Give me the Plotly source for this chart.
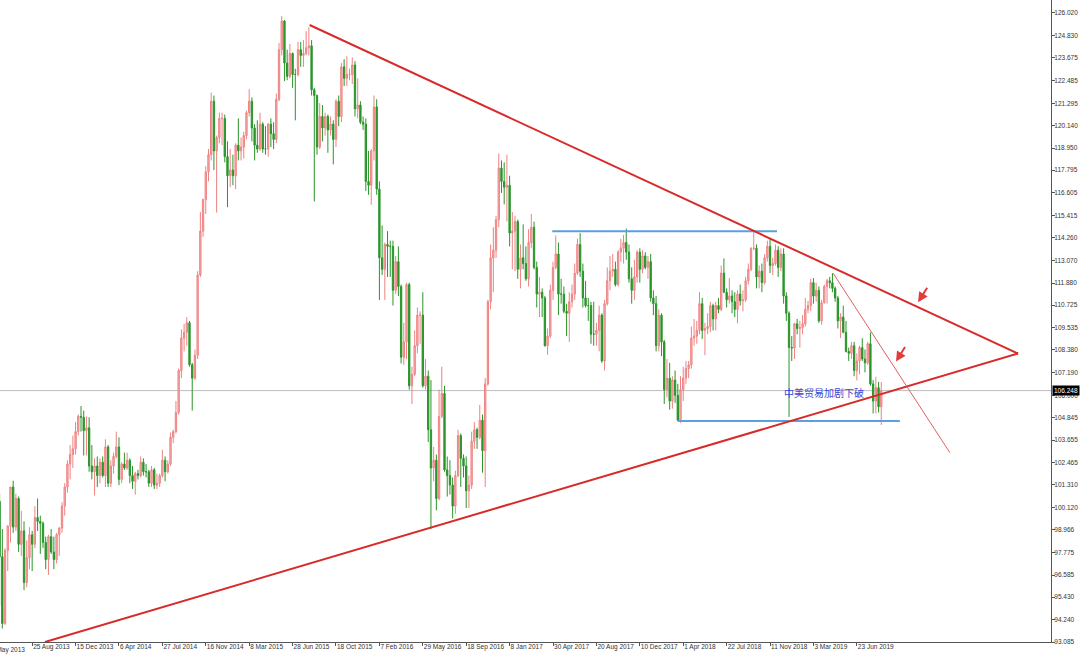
import pandas as pd
import plotly.graph_objects as go

# ---------------- data (USD/JPY weekly bars) ----------------
first_week = "2013-06-02"

opens = [
    # 2013
    100.45, 97.55, 94.05, 97.88, 99.15, 101.20, 99.10, 100.60, 98.20, 98.90, 96.20, 97.50, 98.70, 98.20, 99.60, 99.40,
    99.30, 98.30, 97.40, 98.60, 97.80, 97.40, 98.70, 99.05, 100.20, 101.20, 102.40, 102.90, 103.20, 104.10, 104.90,
    # 2014
    104.85, 104.15, 104.30, 102.30, 102.00, 102.30, 101.80, 102.50, 101.80, 103.30, 101.40, 102.30, 102.80, 103.30,
    101.60, 102.40, 102.20, 102.60, 101.80, 101.50, 101.90, 101.80, 102.50, 102.00, 102.00, 101.40, 102.10, 101.30,
    101.40, 101.80, 102.60, 102.00, 102.40, 103.80, 104.10, 105.10, 107.30, 109.00, 109.30, 109.80, 107.60, 106.90,
    108.10, 112.30, 114.60, 116.25, 117.70, 118.60, 121.40, 118.80, 119.50, 120.50,
    # 2015
    120.50, 118.50, 117.50, 117.80, 117.50, 119.10, 118.80, 119.00, 119.60, 120.80, 121.40, 120.00, 119.10, 118.90,
    120.20, 118.90, 118.90, 120.20, 119.70, 119.40, 121.50, 124.10, 125.60, 123.40, 122.70, 123.90, 122.80, 122.80,
    124.10, 123.80, 123.90, 124.20, 124.30, 122.00, 121.70, 119.00, 120.60, 120.00, 120.60, 119.90, 120.20, 119.40,
    121.40, 120.60, 123.20, 122.60, 122.80, 122.80, 123.30, 121.00, 121.20, 120.30,
    # 2016
    120.20, 117.20, 117.00, 118.80, 121.10, 116.80, 113.20, 112.60, 113.90, 113.80, 113.80, 111.50, 113.00, 111.70,
    108.00, 108.80, 111.80, 106.50, 107.10, 108.60, 110.20, 110.20, 106.50, 107.00, 104.20, 102.20, 102.60, 100.60,
    104.90, 106.10, 102.10, 101.80, 101.30, 100.20, 101.80, 103.90, 102.70, 102.30, 101.00, 101.30, 103.60, 104.20,
    103.80, 104.70, 103.10, 106.60, 110.90, 113.20, 113.60, 115.20, 117.90, 117.20,
    # 2017
    116.90, 117.00, 114.50, 114.60, 115.10, 112.60, 113.20, 112.90, 112.10, 114.00, 114.80, 112.70, 111.30, 111.40,
    111.10, 108.60, 109.10, 111.50, 112.70, 113.40, 111.30, 111.30, 110.40, 110.30, 110.90, 111.30, 112.40, 113.90,
    112.50, 111.10, 110.70, 110.70, 109.20, 109.20, 109.40, 110.20, 107.80, 110.80, 112.00, 112.50, 112.60, 111.80,
    113.50, 113.70, 114.00, 113.50, 112.10, 111.50, 112.20, 113.50, 112.60, 113.30, 112.70,
    # 2018
    113.00, 111.10, 110.80, 108.60, 110.20, 108.80, 106.30, 106.90, 105.70, 106.80, 106.00, 104.70, 106.30, 106.90,
    107.40, 107.60, 109.00, 109.10, 109.40, 110.80, 109.40, 109.50, 109.60, 110.70, 110.00, 110.70, 110.50, 112.40,
    111.40, 111.00, 111.20, 110.90, 110.50, 111.30, 110.95, 111.00, 112.00, 112.60, 113.70, 113.70, 112.20, 112.50,
    111.90, 113.20, 113.80, 112.80, 112.90, 113.60, 112.70, 113.40, 111.20, 110.30,
    # 2019
    108.50, 108.48, 109.75, 109.50, 109.55, 109.75, 110.50, 110.70, 111.90, 111.20, 111.50, 109.90, 110.85, 111.70,
    112.00, 111.90, 111.60, 111.10, 109.90, 110.10, 109.30, 108.30, 108.20, 108.60, 107.30, 107.80, 108.50, 107.90,
    107.70, 108.70, 106.60, 105.70, 106.40, 105.40,
]

highs = [
    # 2013
    100.85, 99.00, 98.00, 99.20, 101.20, 101.53, 100.85, 100.70, 99.95, 99.40, 98.40, 99.10, 98.90, 100.20, 100.60,
    99.70, 99.40, 98.60, 98.70, 99.00, 98.60, 98.80, 99.10, 100.40, 101.40, 102.60, 103.40, 103.90, 104.60, 105.00,
    105.44,
    # 2014
    105.20, 104.90, 104.85, 103.40, 102.70, 102.80, 102.70, 102.80, 103.70, 103.40, 102.60, 103.00, 104.10, 103.80,
    102.50, 103.00, 103.00, 102.70, 102.30, 102.00, 102.10, 102.80, 102.70, 102.40, 102.10, 102.30, 102.20, 101.90,
    101.90, 103.15, 102.80, 102.60, 104.05, 104.20, 105.70, 107.40, 109.45, 109.75, 110.10, 109.90, 107.70, 108.40,
    112.50, 115.60, 116.30, 118.00, 118.90, 121.85, 121.70, 119.60, 120.80, 120.80,
    # 2015
    120.70, 119.30, 118.90, 118.60, 119.20, 120.50, 119.50, 119.80, 120.90, 122.03, 121.60, 120.20, 120.40, 120.80,
    120.30, 120.10, 120.25, 120.50, 120.30, 121.80, 124.45, 125.86, 125.65, 124.10, 124.40, 123.95, 123.10, 124.50,
    124.50, 124.60, 125.07, 125.28, 124.60, 122.10, 121.75, 121.30, 121.20, 120.80, 120.70, 120.60, 120.40, 121.50,
    121.70, 123.40, 123.60, 123.76, 123.10, 123.70, 123.50, 122.60, 121.40, 120.60,
    # 2016
    120.50, 118.80, 118.90, 121.70, 121.50, 117.20, 114.90, 114.00, 114.60, 114.10, 114.10, 113.30, 113.80, 111.80,
    109.80, 111.90, 111.90, 107.50, 109.40, 110.60, 110.40, 111.40, 107.90, 107.30, 106.80, 103.30, 102.90, 106.30,
    107.50, 106.50, 102.80, 102.60, 101.70, 102.05, 104.20, 104.00, 102.90, 102.80, 101.80, 104.10, 104.60, 104.30,
    105.50, 105.00, 106.90, 111.00, 113.90, 114.80, 115.40, 118.66, 118.30, 118.20,
    # 2017
    118.60, 117.50, 115.60, 115.40, 115.20, 113.90, 114.95, 113.80, 114.70, 115.50, 115.10, 113.00, 112.20, 111.60,
    111.20, 109.50, 111.80, 113.00, 114.37, 114.00, 112.10, 111.70, 110.80, 111.40, 111.80, 112.90, 114.20, 114.49,
    112.90, 112.00, 111.10, 110.90, 110.90, 109.80, 110.70, 110.30, 111.00, 112.70, 113.30, 113.40, 113.00, 113.60,
    114.20, 114.40, 114.73, 113.90, 112.70, 113.10, 113.60, 113.70, 113.60, 113.50, 113.30,
    # 2018
    113.40, 111.50, 111.20, 110.50, 110.30, 108.90, 107.90, 107.70, 107.00, 107.30, 106.60, 107.00, 107.50, 107.80,
    107.80, 109.60, 110.00, 109.90, 111.40, 111.10, 109.80, 110.30, 110.90, 110.80, 110.90, 111.10, 112.80, 113.17,
    111.60, 112.15, 111.50, 111.40, 111.50, 111.80, 111.50, 112.20, 112.90, 113.75, 114.55, 113.90, 112.80, 112.90,
    113.40, 114.10, 114.20, 113.20, 113.90, 113.80, 113.70, 113.70, 111.40, 110.40,
    # 2019
    109.10, 109.80, 110.00, 109.90, 110.20, 111.10, 110.95, 112.10, 112.14, 111.90, 111.70, 111.00, 111.80, 112.10,
    112.20, 112.40, 111.70, 111.20, 110.30, 110.70, 109.90, 108.50, 108.80, 108.80, 108.20, 108.60, 108.99, 108.40,
    108.80, 109.30, 106.80, 106.97, 106.70, 106.70,
]

lows = [
    # 2013
    94.98, 93.79, 93.98, 96.80, 98.30, 98.80, 98.90, 97.80, 97.60, 95.80, 95.95, 96.90, 96.80, 98.00, 98.90, 97.70,
    98.00, 96.90, 96.60, 97.70, 96.90, 97.20, 97.60, 98.80, 99.70, 100.90, 101.60, 102.20, 102.90, 103.90, 104.10,
    # 2014
    102.85, 102.85, 102.00, 101.60, 100.76, 101.20, 101.40, 101.70, 101.20, 101.20, 101.20, 101.90, 102.70, 101.30,
    101.40, 102.10, 102.10, 101.40, 101.10, 100.80, 101.60, 101.70, 101.80, 101.70, 101.20, 101.20, 101.10, 101.10,
    101.20, 101.70, 101.50, 101.90, 102.30, 103.50, 104.00, 105.00, 106.90, 108.30, 108.60, 107.50, 105.20, 106.80,
    107.90, 112.20, 114.30, 115.50, 117.20, 118.30, 117.80, 115.57, 119.20, 119.10,
    # 2015
    118.20, 115.85, 116.90, 117.00, 116.80, 118.30, 118.30, 118.40, 119.40, 120.60, 119.30, 118.30, 118.70, 118.80,
    118.70, 118.60, 118.50, 119.00, 118.90, 119.20, 121.40, 123.80, 122.45, 122.50, 122.60, 122.10, 120.40, 122.70,
    123.20, 123.20, 123.80, 123.80, 121.70, 116.15, 118.60, 118.90, 119.30, 119.60, 118.70, 119.60, 118.10, 119.00,
    120.10, 120.30, 122.20, 122.20, 122.50, 122.30, 120.60, 120.50, 120.20, 119.90,
    # 2016
    116.70, 116.50, 115.98, 118.30, 116.50, 110.99, 112.30, 111.00, 112.20, 112.20, 110.70, 111.30, 111.20, 107.67,
    107.60, 107.90, 106.30, 105.55, 107.00, 108.20, 108.70, 106.40, 106.30, 103.55, 99.00, 101.50, 99.98, 100.50,
    104.80, 102.00, 100.70, 100.80, 99.55, 99.80, 101.70, 101.20, 101.70, 100.10, 100.10, 101.10, 103.20, 103.20,
    103.70, 101.95, 101.20, 106.50, 110.50, 111.40, 113.20, 114.80, 116.60, 116.00,
    # 2017
    115.10, 113.80, 112.60, 112.50, 112.10, 111.60, 112.60, 112.00, 111.70, 113.70, 112.60, 110.60, 110.10, 110.10,
    108.55, 108.13, 109.00, 111.00, 112.60, 110.20, 110.80, 110.30, 109.10, 108.80, 110.60, 111.00, 112.30, 112.20,
    110.60, 110.60, 109.90, 108.70, 108.60, 108.60, 108.30, 107.70, 107.30, 110.70, 111.50, 112.20, 111.70, 111.70,
    113.00, 112.90, 113.10, 111.90, 110.80, 111.00, 111.90, 111.90, 112.40, 112.60, 112.10,
    # 2018
    110.90, 110.20, 108.30, 108.30, 108.05, 105.55, 105.90, 105.25, 105.30, 105.60, 104.63, 104.56, 105.70, 106.60,
    106.90, 107.40, 108.60, 108.70, 109.20, 108.95, 108.10, 109.20, 109.30, 109.40, 109.40, 110.30, 110.40, 111.35,
    110.60, 110.80, 110.30, 110.10, 109.77, 110.70, 110.40, 110.90, 111.80, 112.50, 113.60, 111.60, 111.60, 111.40,
    111.80, 113.00, 112.40, 112.30, 112.80, 112.20, 112.50, 110.80, 109.90, 104.87,
    # 2019
    107.80, 107.90, 109.20, 108.50, 109.20, 109.60, 110.30, 110.40, 110.80, 110.90, 109.80, 109.70, 110.80, 110.80,
    111.60, 111.40, 110.90, 109.50, 109.00, 109.25, 108.25, 107.80, 107.90, 107.00, 106.78, 107.10, 107.80, 107.20,
    107.60, 106.50, 105.05, 105.05, 105.10, 104.45,
]

closes = [
    # 2013
    97.55, 94.05, 97.88, 99.15, 101.20, 99.10, 100.60, 98.20, 98.90, 96.20, 97.50, 98.70, 98.20, 99.60, 99.40, 99.30,
    98.30, 97.40, 98.60, 97.80, 97.40, 98.70, 99.05, 100.20, 101.20, 102.40, 102.90, 103.20, 104.10, 104.90, 104.85,
    # 2014
    104.15, 104.30, 102.30, 102.00, 102.30, 101.80, 102.50, 101.80, 103.30, 101.40, 102.30, 102.80, 103.30, 101.60,
    102.40, 102.20, 102.60, 101.80, 101.50, 101.90, 101.80, 102.50, 102.00, 102.00, 101.40, 102.10, 101.30, 101.40,
    101.80, 102.60, 102.00, 102.40, 103.80, 104.10, 105.10, 107.30, 109.00, 109.30, 109.80, 107.60, 106.90, 108.10,
    112.30, 114.60, 116.25, 117.70, 118.60, 121.40, 118.80, 119.50, 120.50, 120.50,
    # 2015
    118.50, 117.50, 117.80, 117.50, 119.10, 118.80, 119.00, 119.60, 120.80, 121.40, 120.00, 119.10, 118.90, 120.20,
    118.90, 118.90, 120.20, 119.70, 119.40, 121.50, 124.10, 125.60, 123.40, 122.70, 123.90, 122.80, 122.80, 124.10,
    123.80, 123.90, 124.20, 124.30, 122.00, 121.70, 119.00, 120.60, 120.00, 120.60, 119.90, 120.20, 119.40, 121.40,
    120.60, 123.20, 122.60, 122.80, 122.80, 123.30, 121.00, 121.20, 120.30, 120.20,
    # 2016
    117.20, 117.00, 118.80, 121.10, 116.80, 113.20, 112.60, 113.90, 113.80, 113.80, 111.50, 113.00, 111.70, 108.00,
    108.80, 111.80, 106.50, 107.10, 108.60, 110.20, 110.20, 106.50, 107.00, 104.20, 102.20, 102.60, 100.60, 104.90,
    106.10, 102.10, 101.80, 101.30, 100.20, 101.80, 103.90, 102.70, 102.30, 101.00, 101.30, 103.60, 104.20, 103.80,
    104.70, 103.10, 106.60, 110.90, 113.20, 113.60, 115.20, 117.90, 117.20, 116.90,
    # 2017
    117.00, 114.50, 114.60, 115.10, 112.60, 113.20, 112.90, 112.10, 114.00, 114.80, 112.70, 111.30, 111.40, 111.10,
    108.60, 109.10, 111.50, 112.70, 113.40, 111.30, 111.30, 110.40, 110.30, 110.90, 111.30, 112.40, 113.90, 112.50,
    111.10, 110.70, 110.70, 109.20, 109.20, 109.40, 110.20, 107.80, 110.80, 112.00, 112.50, 112.60, 111.80, 113.50,
    113.70, 114.00, 113.50, 112.10, 111.50, 112.20, 113.50, 112.60, 113.30, 112.70, 113.00,
    # 2018
    111.10, 110.80, 108.60, 110.20, 108.80, 106.30, 106.90, 105.70, 106.80, 106.00, 104.70, 106.30, 106.90, 107.40,
    107.60, 109.00, 109.10, 109.40, 110.80, 109.40, 109.50, 109.60, 110.70, 110.00, 110.70, 110.50, 112.40, 111.40,
    111.00, 111.20, 110.90, 110.50, 111.30, 110.95, 111.00, 112.00, 112.60, 113.70, 113.70, 112.20, 112.50, 111.90,
    113.20, 113.80, 112.80, 112.90, 113.60, 112.70, 113.40, 111.20, 110.30, 108.50,
    # 2019
    108.48, 109.75, 109.50, 109.55, 109.75, 110.50, 110.70, 111.90, 111.20, 111.50, 109.90, 110.85, 111.70, 112.00,
    111.90, 111.60, 111.10, 109.90, 110.10, 109.30, 108.30, 108.20, 108.60, 107.30, 107.80, 108.50, 107.90, 107.70,
    108.70, 106.60, 105.70, 106.40, 105.40, 106.248,
]

last_price = 106.248

# drawn trend lines (date, price)
upper_red_dates = ["2015-08-11", "2020-08-12"]
upper_red_prices = [125.39, 108.19]
lower_red_dates = ["2013-09-27", "2020-08-12"]
lower_red_prices = [93.085, 108.19]
thin_red_dates = ["2019-04-23", "2020-02-18"]
thin_red_prices = [112.39, 103.00]
top_blue_dates = ["2017-04-28", "2018-11-29"]
top_blue_prices = [114.59, 114.59]
bottom_blue_dates = ["2018-03-19", "2019-10-12"]
bottom_blue_prices = [104.65, 104.65]

arrow_tip_dates = ["2019-11-28", "2019-10-02"]
arrow_tip_prices = [110.87, 107.77]

note_text = "中美贸易加剧下破"
note_date = "2019-03-30"
note_price = 106.15

# axis ticks
xtick_dates = ["2013-08-25", "2013-12-15", "2014-04-06", "2014-07-27", "2014-11-16", "2015-03-08", "2015-06-28",
               "2015-10-18", "2016-02-07", "2016-05-29", "2016-09-18", "2017-01-08", "2017-04-30", "2017-08-20",
               "2017-12-10", "2018-04-01", "2018-07-22", "2018-11-11", "2019-03-03", "2019-06-23"]
xtick_labels = ["25 Aug 2013", "15 Dec 2013", "6 Apr 2014", "27 Jul 2014", "16 Nov 2014", "8 Mar 2015", "28 Jun 2015",
                "18 Oct 2015", "7 Feb 2016", "29 May 2016", "18 Sep 2016", "8 Jan 2017", "30 Apr 2017", "20 Aug 2017",
                "10 Dec 2017", "1 Apr 2018", "22 Jul 2018", "11 Nov 2018", "3 Mar 2019", "23 Jun 2019"]
ytick_labels = ["126.020", "124.830", "123.675", "122.485", "121.295", "120.140", "118.950", "117.795", "116.605",
                "115.415", "114.260", "113.070", "111.880", "110.725", "109.535", "108.380", "107.190", "106.000",
                "104.845", "103.655", "102.465", "101.310", "100.120", "98.966", "97.775", "96.585", "95.430",
                "94.240", "93.085"]
ytick_values = [float(t) for t in ytick_labels]

# ---------------- figure ----------------
dates = pd.date_range(first_week, periods=len(closes), freq="7D")

RED = "#d82a2a"
BLUE = "#5a9fe0"
TICKFONT = dict(family="Liberation Sans, Arial, sans-serif", size=6.5, color="#333333")

fig = go.Figure()
fig.add_trace(go.Candlestick(
    x=dates, open=opens, high=highs, low=lows, close=closes,
    increasing=dict(line=dict(color="#ee8282", width=1), fillcolor="#f5b3b3"),
    decreasing=dict(line=dict(color="#2a952a", width=1), fillcolor="#2a952a"),
    whiskerwidth=0, showlegend=False, hoverinfo="skip",
))

for xs, ys, color, width in [
    (top_blue_dates, top_blue_prices, BLUE, 2),
    (bottom_blue_dates, bottom_blue_prices, BLUE, 2),
    (upper_red_dates, upper_red_prices, RED, 2),
    (lower_red_dates, lower_red_prices, RED, 2),
    (thin_red_dates, thin_red_prices, "#e06060", 1),
]:
    fig.add_trace(go.Scatter(x=xs, y=ys, mode="lines", line=dict(color=color, width=width),
                             showlegend=False, hoverinfo="skip"))

fig.add_shape(type="line", xref="paper", x0=0, x1=1, yref="y", y0=last_price, y1=last_price,
              line=dict(color="#bdbdbd", width=1), layer="below")

annotations = []
for d, p in zip(arrow_tip_dates, arrow_tip_prices):
    annotations.append(dict(x=d, y=p, xref="x", yref="y", text="", showarrow=True, arrowhead=2,
                            arrowsize=1, arrowwidth=2, arrowcolor="#e23b3b", ax=10, ay=-16))
annotations.append(dict(x=note_date, y=note_price, xref="x", yref="y", text=note_text, showarrow=False,
                        font=dict(family="Noto Sans CJK SC", size=10, color="#3a48d8")))
annotations.append(dict(x=1, y=last_price, xref="paper", yref="y", xanchor="left", yanchor="middle",
                        text=f"{last_price:.3f}", showarrow=False, bgcolor="black", borderpad=1, xshift=1,
                        font=dict(family="Liberation Sans, Arial, sans-serif", size=6.5, color="white")))
annotations.append(dict(x=-11 / 1051, y=0, xref="paper", yref="paper", xanchor="left", yanchor="top",
                        yshift=-2, text="5 May 2013", showarrow=False, font=TICKFONT))

fig.update_layout(
    width=1080, height=655,
    margin=dict(l=0, r=29, t=0, b=13, autoexpand=False),
    paper_bgcolor="white", plot_bgcolor="white",
    showlegend=False,
    annotations=annotations,
    xaxis=dict(
        type="date", range=["2013-06-03", "2020-11-05"],
        rangeslider=dict(visible=False),
        automargin=False,
        showgrid=False, zeroline=False,
        showline=True, linecolor="#555555", linewidth=1,
        ticks="outside", ticklen=3, tickcolor="#555555",
        tickvals=xtick_dates, ticktext=xtick_labels,
        ticklabelposition="outside right", tickangle=0,
        ticklabelstandoff=-2,
        tickfont=TICKFONT,
    ),
    yaxis=dict(
        side="right", range=[93.085, 126.70],
        automargin=False,
        showgrid=False, zeroline=False,
        showline=True, linecolor="#555555", linewidth=1,
        ticks="outside", ticklen=3, tickcolor="#555555",
        tickvals=ytick_values, ticktext=ytick_labels,
        ticklabelstandoff=-2,
        tickfont=TICKFONT,
    ),
)

# remove the browser's default page margin so the figure sits at the window's top-left corner
fig.write_html("out.html", config={"displayModeBar": False},
               post_script="document.body.style.margin='0';")
